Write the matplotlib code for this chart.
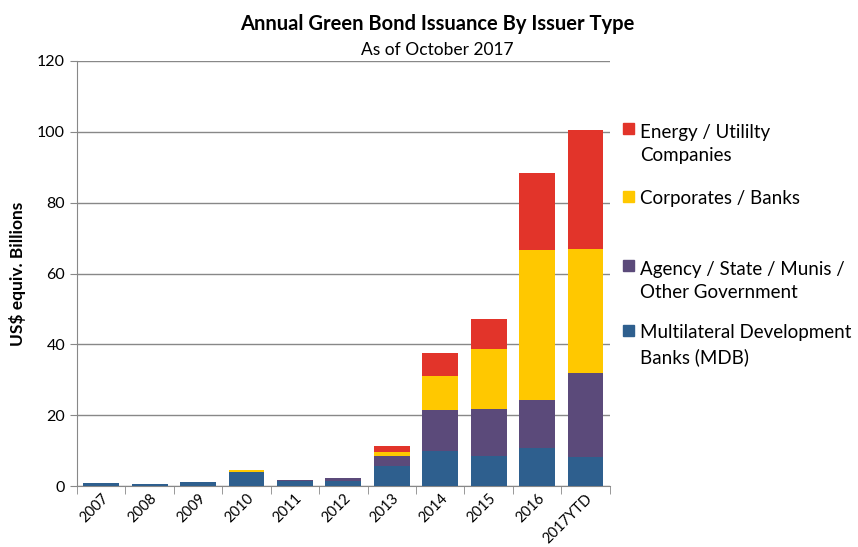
import numpy as np
import matplotlib
matplotlib.use('Agg')
from matplotlib import pyplot as plt
from matplotlib.patches import Rectangle

plt.rcParams['font.family'] = ['Lato', 'DejaVu Sans']

years = ['2007', '2008', '2009', '2010', '2011', '2012', '2013', '2014', '2015', '2016', '2017YTD']
mdb = [0.8, 0.5, 1.1, 4.0, 1.5, 1.4, 5.7, 10.0, 8.5, 10.6, 8.1]
agency = [0.0, 0.0, 0.0, 0.0, 0.3, 1.0, 2.8, 11.5, 13.2, 13.7, 23.8]
corporates = [0.0, 0.0, 0.0, 0.4, 0.0, 0.0, 1.0, 9.5, 17.0, 42.3, 35.0]
energy = [0.0, 0.0, 0.0, 0.0, 0.0, 0.0, 1.8, 6.5, 8.4, 21.8, 33.6]

labels = ['Multilateral Development\nBanks (MDB)',
          'Agency / State / Munis /\nOther Government',
          'Corporates / Banks',
          'Energy / Utililty\nCompanies']
colors = ['#2E5F8E', '#5B4A7A', '#FFC800', '#E2342A']

W, H = 858, 547
fig = plt.figure(figsize=(W / 100, H / 100), dpi=100)
ax = fig.add_axes([0.0897, 0.1115, 0.621, 0.777])

x = np.arange(len(years))
bottom = np.zeros(len(years))
for vals, c in zip([mdb, agency, corporates, energy], colors):
    ax.bar(x, vals, 0.74, bottom=bottom, color=c, zorder=3)
    bottom += np.array(vals)

ax.set_ylim(0, 120)
ax.set_yticks(np.arange(0, 121, 20))
ax.set_xlim(-0.5, len(years) - 0.5)
ax.yaxis.grid(True, color='#888888', linewidth=1, zorder=0)
for s in ['top', 'right']:
    ax.spines[s].set_visible(False)
ax.spines['left'].set_color('#888888')
ax.spines['bottom'].set_color('#888888')
ax.tick_params(axis='y', length=5, color='#888888', labelsize=11.5)

# category labels centred, tick marks between categories (excel style)
ax.set_xticks(x)
ax.set_xticklabels(years, rotation=45, ha='right', rotation_mode='anchor', fontsize=10.5)
ax.tick_params(axis='x', length=0, pad=4)
ax.set_xticks(np.arange(-0.5, len(years)), minor=True)
ax.tick_params(axis='x', which='minor', length=6, color='#888888')

ax.set_ylabel('US$ equiv. Billions', fontsize=12.5, fontweight='bold', labelpad=8)

fig.text(0.51, 0.945, 'Annual Green Bond Issuance By Issuer Type', ha='center',
         fontsize=14.5, fontweight='bold')
fig.text(0.51, 0.9, 'As of October 2017', ha='center', fontsize=12.5)

# legend drawn by hand: marker lined up with the first line of each label
leg_base = [338, 273, 204, 136]  # first-line baselines, pixels from top
line_h = 25
for lab, c, yb in zip(labels, colors, leg_base):
    fig.patches.append(Rectangle((623 / W, 1 - (yb - 2) / H), 11 / W, 11 / H,
                                 color=c, transform=fig.transFigure, figure=fig))
    y_last = yb + line_h * lab.count('\n')
    fig.text(640 / W, 1 - y_last / H, lab, va='baseline', ha='left',
             fontsize=13.5, linespacing=1.45)

fig.savefig('out.png', dpi=100)
